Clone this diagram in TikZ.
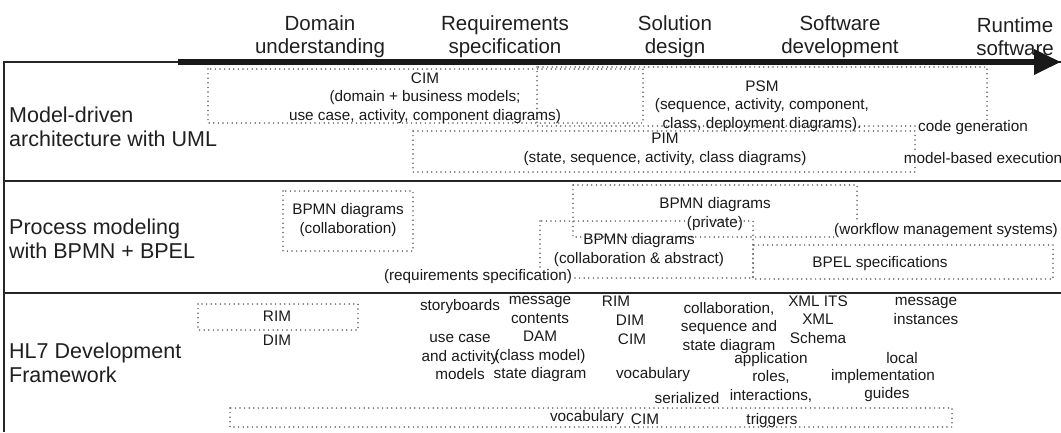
\documentclass[tikz,border=0pt]{standalone}
\usepackage{fontspec}
\setmainfont{Liberation Sans}
\usetikzlibrary{arrows.meta}
\begin{document}
\begin{tikzpicture}[x=1pt,y=-1pt,
  frame/.style={line width=2pt, black!85},
  dotbox/.style={line width=1.7pt, black!62, dash pattern=on 0pt off 4.6pt, line cap=round},
  head/.style={font=\fontsize{20.5}{23}\selectfont, align=center, inner sep=0pt, text=black!88},
  rowlab/.style={font=\fontsize{21.5}{24}\selectfont, align=left, anchor=west, inner sep=0pt, text=black!88},
  lab/.style={font=\fontsize{15.3}{18.5}\selectfont, align=center, inner sep=0.6pt, text=black!90},
  cover/.style={fill=white}]

\useasboundingbox (0,0) rectangle (1061,432);

% phase headings
\node[head] (dom) at (320,37) {Domain\\understanding};
\node[head] (req) at (505,37) {Requirements\\specification};
\node[head] (sol) at (675,37) {Solution\\design};
\node[head] (dev) at (840,37) {Software\\development};
\node[head] (run) at (1015,37) {Runtime\\software};

% table frame
\coordinate (tl) at (4,62);
\coordinate (tr) at (1061,62);
\draw[frame] (tr) -- (tl) -- (4,432);
\draw[frame] (4,181) -- (1061,181);
\draw[frame] (4,293) -- (1061,293);

% time arrow
\coordinate (tstart) at (178,62);
\coordinate (tend) at (1061,62);
\draw[line width=6.5pt, black!90, -{Triangle[length=27pt,width=24pt]}] (tstart) -- (tend);

% row labels
\node[rowlab] (mda) at (9,127) {Model-driven\\architecture with UML};
\node[rowlab] (bpm) at (9,239) {Process modeling\\with BPMN + BPEL};
\node[rowlab] (hl7) at (9,363) {HL7 Development\\Framework};

% ---- model-driven architecture
\draw[dotbox] (208,69) rectangle (643,123);
\draw[dotbox] (537,67) rectangle (987,126);
\draw[dotbox] (413,131) rectangle (915,172);
\node[lab] (cim) at (425,98) {CIM\\(domain + business models;\\use case, activity, component diagrams)};
\node[lab] (psm) at (762,106) {PSM\\(sequence, activity, component,\\class, deployment diagrams).};
\node[lab] (pim) at (665,149.5) {PIM\\(state, sequence, activity, class diagrams)};
\node[lab, cover] (codegen) at (973,128) {code generation};
\node[lab, cover] (exec) at (983,158) {model-based execution};

% ---- BPMN + BPEL
\draw[dotbox] (283,191) rectangle (413,251);
\node[lab] (bpmncoll) at (348,220) {BPMN diagrams\\(collaboration)};
\draw[dotbox] (573,185) rectangle (857,237);
\node[lab] (bpmnpriv) at (715,214) {BPMN diagrams\\(private)};
\draw[dotbox] (540,221) rectangle (753,278);
\node[lab] (bpmnabs) at (639,250) {BPMN diagrams\\(collaboration \& abstract)};
\draw[dotbox] (753,245) rectangle (1053,279);
\node[lab] (bpel) at (880,264) {BPEL specifications};
\node[lab, cover] (reqspec) at (478,277) {(requirements specification)};
\node[lab, cover] (wfms) at (946,231) {(workflow management systems)};

% ---- HL7 development framework
\draw[dotbox] (198,304) rectangle (358,330);
\node[lab] (rima) at (277,316) {RIM};
\node[lab] (dima) at (277,340) {DIM};
\node[lab] (story) at (460,307) {storyboards};
\node[lab] (usecase) at (460,357) {use case\\and activity\\models};
\node[lab] (msgc) at (540,339) {message\\contents\\DAM\\(class model)\\state diagram};
\node[lab] (rimb) at (616,301) {RIM};
\node[lab] (dimb) at (630,320) {DIM};
\node[lab] (cimb) at (632,339) {CIM};
\node[lab] (vocaba) at (653,375) {vocabulary};
\node[lab] (seqst) at (729,328) {collaboration,\\sequence and\\state diagram};
\node[lab] (xml) at (818,319.5) {XML ITS\\XML\\Schema};
\node[lab] (approles) at (771,377) {application\\roles,\\interactions,};
\node[lab] (trig) at (772,421) {triggers};
\node[lab] (serial) at (687,398) {serialized};
\node[lab] (msgi) at (926,311) {message\\instances};
\node[lab] (local) at (902,358) {local};
\node[lab] (impl) at (883,377) {implementation};
\node[lab] (guides) at (887,395) {guides};
\draw[dotbox] (230,408) rectangle (952,427);
\node[lab] (vocabb) at (587,418) {vocabulary};
\node[lab] (cimc) at (645,419) {CIM};
\end{tikzpicture}
\end{document}
